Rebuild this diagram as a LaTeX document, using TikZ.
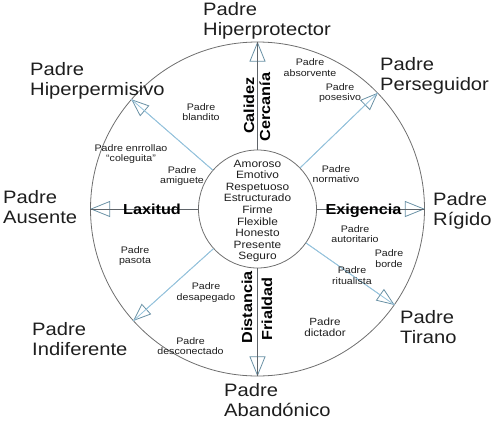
\documentclass[tikz,border=0pt]{standalone}
\usepackage{fontspec}
\setmainfont{Liberation Sans}[FakeStretch=1.12]
\usetikzlibrary{arrows.meta}
\definecolor{ringgray}{RGB}{110,110,110}
\definecolor{axisgray}{RGB}{95,100,105}
\definecolor{diagblue}{RGB}{150,195,220}
\definecolor{tipblue}{RGB}{105,145,165}
\definecolor{txtgray}{RGB}{30,30,30}
\tikzset{
  parRing/.style={draw=ringgray, line width=0.8pt, circle, inner sep=0pt},
  parBig/.style={anchor=north west, inner sep=0pt, align=left, text=txtgray,
    font=\fontsize{18}{20}\selectfont},
  parSmall/.style={inner sep=0pt, align=center, text=txtgray,
    font=\fontsize{9.5}{10.4}\selectfont},
  parCore/.style={inner sep=0pt, align=center, text=txtgray,
    font=\fontsize{10.6}{11.6}\selectfont},
  parAxisLbl/.style={inner sep=0pt, text=black,
    font=\fontsize{14.5}{16}\selectfont\bfseries},
  %% Axis and diagonal arrows
  parAxis/.style={draw=axisgray, line width=0.7pt,
    -{Triangle[open, length=20pt, width=16pt, color=tipblue, line width=0.8pt]},
    postaction={draw=axisgray, -}},
  parDiag/.style={draw=diagblue, line width=0.8pt,
    -{Triangle[open, length=18pt, width=14pt, color=tipblue, line width=0.8pt]},
    postaction={draw=diagblue, -}},
}
\begin{document}
\begin{tikzpicture}[x=1pt, y=-1pt]
\useasboundingbox (0,0) rectangle (491,421);
\node[parRing, minimum size=334pt] (pRing) at (257.5,209) {};
\node[parRing, minimum size=118pt] (pCore) at (257.5,209) {};

\draw[parAxis] (pCore.90)  -- (pRing.90);
\draw[parAxis] (pCore.270) -- (pRing.270);
\draw[parAxis] (pCore.180) -- (pRing.180);
\draw[parAxis] (pCore.0)   -- (pRing.0);
\draw[parDiag] (pCore.44)  -- (pRing.44);
\draw[parDiag] (pCore.139.5) -- (pRing.139.5);
\draw[parDiag] (pCore.222) -- (pRing.222);
\draw[parDiag] (pCore.325) -- (pRing.325);

\node[parCore] (pTraits) at (257.5,211) {Amoroso\\Emotivo\\Respetuoso\\Estructurado\\Firme\\Flexible\\Honesto\\Presente\\Seguro};

\node[parAxisLbl, rotate=90] (pCalidez)   at (249,105.5) {Calidez};
\node[parAxisLbl, rotate=90] (pCercania)  at (265,107)   {Cercanía};
\node[parAxisLbl, rotate=90] (pDistancia) at (247,307.5) {Distancia};
\node[parAxisLbl, rotate=90] (pFrialdad)  at (267,309)   {Frialdad};
\node[parAxisLbl, anchor=base] (pLaxitud)   at (152,214)   {Laxitud};
\node[parAxisLbl, anchor=base] (pExigencia) at (363.5,214) {Exigencia};

\node[parBig] (pHiperprot) at (203,2)   {Padre\\Hiperprotector};
\node[parBig] (pHiperperm) at (30,62)   {Padre\\Hiperpermisivo};
\node[parBig] (pPerseg)    at (380,57)  {Padre\\Perseguidor};
\node[parBig] (pAusente)   at (3,190)   {Padre\\Ausente};
\node[parBig] (pRigido)    at (433,192) {Padre\\Rígido};
\node[parBig] (pIndif)     at (32,322)  {Padre\\Indiferente};
\node[parBig] (pTirano)    at (400,310) {Padre\\Tirano};
\node[parBig] (pAband)     at (224,383) {Padre\\Abandónico};

\node[parSmall] (pAbsorv)   at (310,67.5)  {Padre\\absorvente};
\node[parSmall] (pPosesivo) at (340,93)    {Padre\\posesivo};
\node[parSmall] (pBlandito) at (201,112)   {Padre\\blandito};
\node[parSmall] (pEnrrol)   at (131,154)   {Padre enrrollao\\“coleguita”};
\node[parSmall] (pAmiguete) at (182,176)   {Padre\\amiguete};
\node[parSmall] (pNormat)   at (336,174)   {Padre\\normativo};
\node[parSmall] (pAutorit)  at (355,234)   {Padre\\autoritario};
\node[parSmall] (pBorde)    at (389,258.5) {Padre\\borde};
\node[parSmall] (pRitual)   at (352,275.5) {Padre\\ritualista};
\node[parSmall, font=\fontsize{10.4}{11.3}\selectfont] (pDictador) at (325,327.5) {Padre\\dictador};
\node[parSmall] (pPasota)   at (135,256)   {Padre\\pasota};
\node[parSmall] (pDesapeg)  at (206,292.5) {Padre\\desapegado};
\node[parSmall] (pDesconec) at (190.5,346) {Padre\\desconectado};
\end{tikzpicture}
\end{document}
